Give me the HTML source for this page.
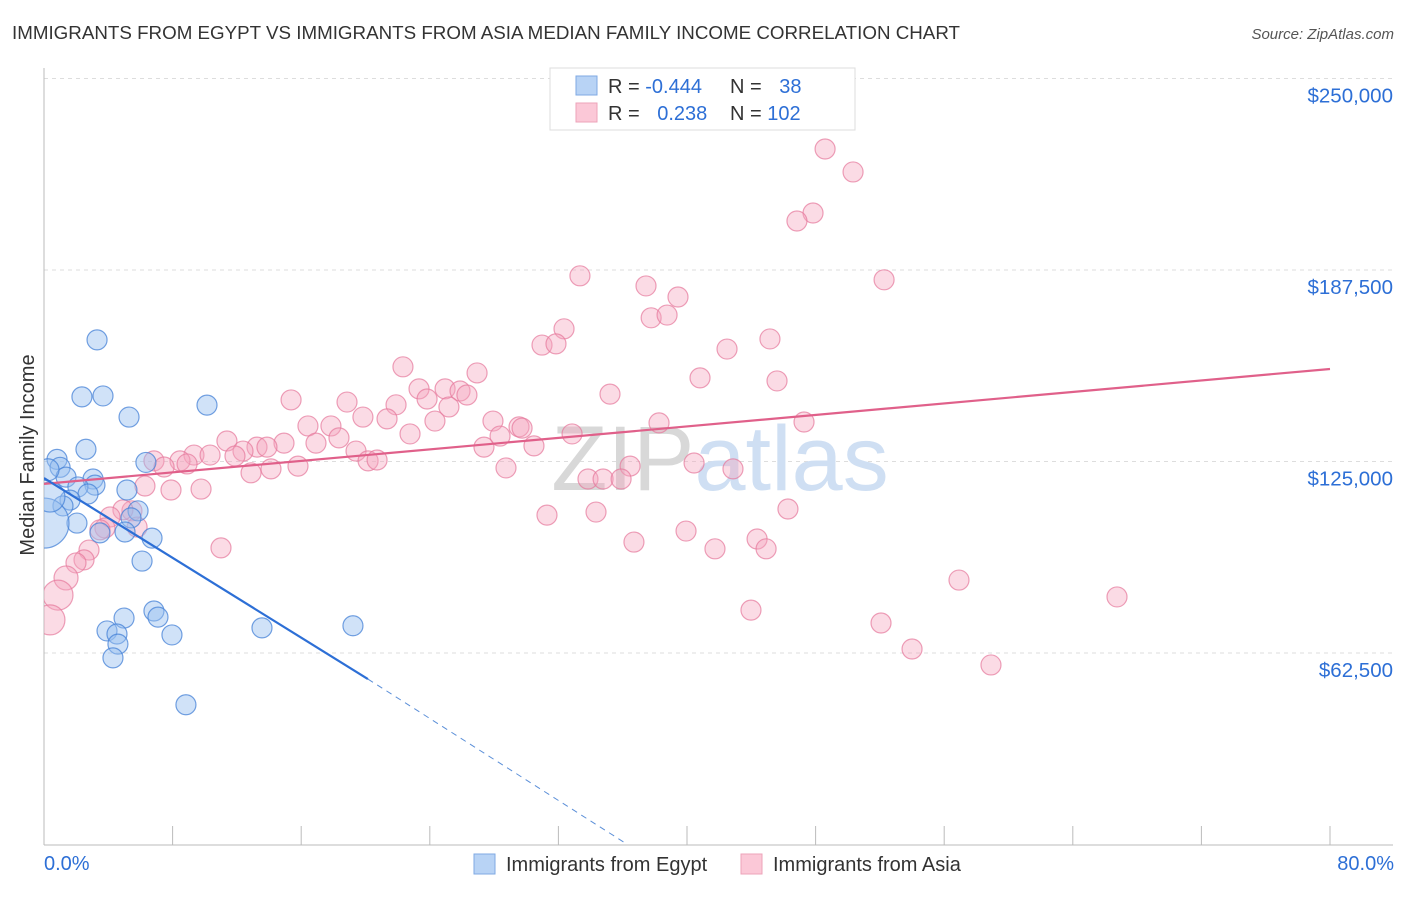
<!DOCTYPE html>
<html><head><meta charset="utf-8"><style>
body{margin:0;background:#fff;font-family:"Liberation Sans",sans-serif;}
svg text{font-family:"Liberation Sans",sans-serif;}
</style></head><body>
<svg width="1406" height="892" xmlns="http://www.w3.org/2000/svg">
<defs><clipPath id="plotclip"><rect x="44" y="60" width="1360" height="786"/></clipPath></defs>
<text x="12" y="39" font-size="18.5" fill="#333" textLength="948" lengthAdjust="spacingAndGlyphs">IMMIGRANTS FROM EGYPT VS IMMIGRANTS FROM ASIA MEDIAN FAMILY INCOME CORRELATION CHART</text>
<text x="1394" y="39" font-size="15" fill="#555" text-anchor="end" font-style="italic">Source: ZipAtlas.com</text>
<g id="grid"></g>
<text x="720" y="490" font-size="92" fill="#dde4ee" text-anchor="middle" font-family="Liberation Serif"><tspan fill="#d8d8d8">ZIP</tspan><tspan fill="#cfdff3" font-family="Liberation Sans">atlas</tspan></text>
<text transform="translate(34,455) rotate(-90)" font-size="20" fill="#333" text-anchor="middle">Median Family Income</text>
<g id="trends" clip-path="url(#plotclip)"></g>
<g id="points" clip-path="url(#plotclip)"></g>
<g>
<rect x="550" y="68" width="305" height="62" fill="#fff" stroke="#ddd"/>
<rect x="576" y="76" width="21" height="19" fill="#b8d3f5" stroke="#7fa9e3"/>
<rect x="576" y="103" width="21" height="19" fill="#fbc8d7" stroke="#eda3ba"/>
<text x="608" y="93" font-size="20" fill="#333">R = <tspan fill="#2d6fd6">-0.444</tspan></text>
<text x="730" y="93" font-size="20" fill="#333">N = <tspan fill="#2d6fd6" dx="12">38</tspan></text>
<text x="608" y="120" font-size="20" fill="#333">R = <tspan fill="#2d6fd6" dx="12">0.238</tspan></text>
<text x="730" y="120" font-size="20" fill="#333">N = <tspan fill="#2d6fd6">102</tspan></text>
</g>
<text x="44" y="870" font-size="20" fill="#2d6fd6">0.0%</text>
<text x="1394" y="870" font-size="20" fill="#2d6fd6" text-anchor="end">80.0%</text>
<g>
<rect x="474" y="854" width="21" height="20" fill="#b8d3f5" stroke="#7fa9e3"/>
<text x="506" y="871" font-size="20" fill="#333">Immigrants from Egypt</text>
<rect x="741" y="854" width="21" height="20" fill="#fbc8d7" stroke="#eda3ba"/>
<text x="773" y="871" font-size="20" fill="#333">Immigrants from Asia</text>
</g>
</svg>
<script>
const yTicks=[62500,125000,187500,250000];
const yTickLabels=["$62,500","$125,000","$187,500","$250,000"];
const xTicks=[0,8,16,24,32,40,48,56,64,72,80];
const egyptX=[3.30,2.36,3.67,5.29,10.14,2.61,6.34,0.81,1.00,1.37,3.05,3.17,2.11,2.74,1.62,5.16,1.18,2.05,5.85,5.41,5.04,6.72,6.10,6.84,7.09,4.98,3.92,4.54,4.60,4.29,7.96,13.56,19.22,8.83,0,0.37,0.25,3.48];
const egyptY=[164.7,146.1,146.4,139.5,143.4,129.0,124.7,125.7,123.1,119.9,119.3,117.3,116.7,114.4,112.4,115.7,110.5,104.9,108.9,106.6,102.0,100.0,92.5,76.2,74.2,73.9,69.7,68.7,65.4,60.9,68.4,70.7,71.4,45.6,104.9,113.4,122.3,101.7];
const egyptSize=[1,1,1,1,1,1,1,1,1,1,1,1,1,1,1,1,1,1,1,1,1,1,1,1,1,1,1,1,1,1,1,1,1,1,2.5,1.5,1.1,1];
const asiaX=[48.59,50.33,47.84,46.84,33.34,52.26,37.45,39.44,37.77,38.76,32.35,30.98,31.85,42.49,45.16,22.33,26.94,40.81,45.60,35.21,23.33,24.95,25.88,26.31,23.83,15.37,18.85,21.90,25.19,19.84,21.34,24.32,27.93,29.55,38.26,47.28,16.42,17.85,29.74,32.85,22.77,28.37,11.38,14.93,18.35,16.92,13.25,13.87,19.41,30.48,27.37,12.38,9.33,10.33,11.88,8.46,8.90,6.84,7.47,15.80,14.12,20.16,20.72,12.88,28.74,40.44,42.86,36.46,33.84,34.78,35.90,6.28,7.90,9.77,31.29,34.34,46.28,5.47,4.91,5.79,4.11,3.79,3.48,36.70,39.94,41.74,44.36,44.92,11.01,2.80,2.49,1.99,1.37,0.87,0.37,43.98,52.07,54.00,58.91,56.92,66.75];
const asiaY=[227.0,219.5,206.1,203.5,185.6,184.3,182.3,178.7,171.9,172.8,168.3,163.0,163.4,161.7,165.0,155.9,153.9,152.3,151.3,147.0,148.7,148.7,148.0,146.7,145.4,145.1,144.4,143.5,142.8,139.5,138.9,138.2,138.2,136.3,137.6,137.9,136.6,136.6,135.9,134.0,134.0,133.3,131.7,131.0,132.7,131.0,129.7,129.7,128.4,130.1,129.7,128.4,127.1,127.1,126.8,125.2,124.2,125.2,123.2,123.5,122.6,125.2,125.5,121.3,122.9,124.5,122.6,123.5,119.3,119.3,119.3,117.0,115.7,116.0,107.5,108.5,109.5,108.9,109.2,103.6,106.9,103.3,102.7,98.7,102.3,96.5,99.7,96.5,96.8,96.1,92.9,91.9,87.0,81.4,73.3,76.5,72.3,63.8,58.6,86.3,80.8];
const asiaBig=[93,94,92];
const asiaTrend=[[0,117.7],[80,155.2]];
const egyptTrendSolid=[[0,119.6],[20.15,54.0]];
const egyptTrendDash=[[20.15,54.0],[36.3,0]];
const X0=44,X1=1330,Y0=844.5,PPK=191.5/62.5;
const sx=v=>X0+(X1-X0)*v/80;
const sy=v=>Y0-v*PPK;
const NS="http://www.w3.org/2000/svg";
function mk(t,a,p){const e=document.createElementNS(NS,t);for(const k in a)e.setAttribute(k,a[k]);p.appendChild(e);return e;}
const grid=document.getElementById('grid');
yTicks.forEach((t,i)=>{
 const y=sy(t/1000);
 const l=mk('line',{x1:44,x2:1393,y1:y,y2:y,stroke:'#ddd','stroke-dasharray':'4,4'},grid);
 
 
 const tx=mk('text',{x:1393,y:y+24,'font-size':20.5,fill:'#2d6fd6','text-anchor':'end'},grid);
 tx.textContent=yTickLabels[i];
 
 
});
const ax=mk('line',{x1:44,x2:44,y1:68,y2:845,stroke:'#bbb'},grid);


const bx=mk('line',{x1:44,x2:1393,y1:845,y2:845,stroke:'#bbb'},grid);


xTicks.forEach(t=>{
 const l=mk('line',{x1:sx(t),x2:sx(t),y1:826,y2:845,stroke:'#bbb'},grid);
 
 
});
const pts=document.getElementById('points');
asiaX.forEach((x,i)=>{
 const r=asiaBig.includes(i)?(i===93||i===94?15:12):10;
 const c=mk('circle',{cx:sx(x),cy:sy(asiaY[i]),r:r,fill:'rgba(244,166,190,0.4)',stroke:'rgba(230,120,155,0.7)','stroke-width':1.2},pts);
 
 
});
egyptX.forEach((x,i)=>{
 const c=mk('circle',{cx:sx(x),cy:sy(egyptY[i]),r:10*egyptSize[i],fill:'rgba(150,190,240,0.45)',stroke:'rgba(70,130,215,0.75)','stroke-width':1.2},pts);
 
 
});
const tr=document.getElementById('trends');
const t1=mk('line',{x1:sx(asiaTrend[0][0]),y1:sy(asiaTrend[0][1]),x2:sx(asiaTrend[1][0]),y2:sy(asiaTrend[1][1]),stroke:'#e0608a','stroke-width':2.2},pts);


const t2=mk('line',{x1:sx(egyptTrendSolid[0][0]),y1:sy(egyptTrendSolid[0][1]),x2:sx(egyptTrendSolid[1][0]),y2:sy(egyptTrendSolid[1][1]),stroke:'#2d6fd6','stroke-width':2.2},pts);


const t3=mk('line',{x1:sx(egyptTrendDash[0][0]),y1:sy(egyptTrendDash[0][1]),x2:sx(egyptTrendDash[1][0]),y2:sy(egyptTrendDash[1][1]),stroke:'#5b8fd8','stroke-width':1,'stroke-dasharray':'6,5'},tr);


</script>
</body></html>
